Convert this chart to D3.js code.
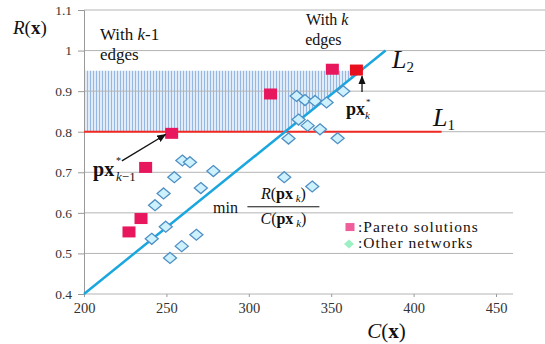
<!DOCTYPE html>
<html>
<head>
<meta charset="utf-8">
<style>
    body { margin: 0; background: #fff; }
    .grid line { stroke: #b4b4b4; stroke-width: 1; }
</style>
</head>
<body>
<svg width="545" height="344"></svg>
<script src="https://d3js.org/d3.v7.min.js"></script>
<script>
// data
let xTicks = [200, 250, 300, 350, 400, 450]
let yTicks = [0.4, 0.5, 0.6, 0.7, 0.8, 0.9, 1, 1.1]
let yTickLabels = ["0.4", "0.5", "0.6", "0.7", "0.8", "0.9", "1", "1.1"]

let paretoC = [227.3, 234.6, 237.4, 253.2, 313.2, 350.7]
let paretoR = [0.553, 0.586, 0.712, 0.796, 0.893, 0.954]
let bestC = [365.3]   // px*_k
let bestR = [0.952]

let otherC = [241.1, 249.6, 252.2, 259.3, 268.2, 243.1, 248.3, 254.8, 270.9, 278.5, 259.7, 264.3,
              321.5, 338.5, 324.1, 330.2, 335.7, 343.2, 353.9, 329.0, 334.1, 340.2, 347.2, 357.3]
let otherR = [0.536, 0.566, 0.489, 0.518, 0.546, 0.619, 0.648, 0.688, 0.661, 0.703, 0.729, 0.725,
              0.688, 0.665, 0.783, 0.830, 0.815, 0.806, 0.784, 0.888, 0.878, 0.876, 0.872, 0.900]

let L1 = { c: [200, 417], r: 0.8 }
let L2 = { c: [200, 383], r: [0.4, 1.0] }
let band = [0.8, 0.95]

let serif = "Liberation Serif"
let svg = d3.select("svg")
let width = 545

let x = d3.scaleLinear().domain([200, 450]).range([84, 496])
let y = d3.scaleLinear().domain([0.4, 1.1]).range([294, 10])
let plotRight = 513

// L2 as a function so the shaded band can stop at it
let l2 = d3.scaleLinear().domain(L2.r).range(L2.c)

// pattern for the shaded band
let defs = svg.append("defs")
let pat = defs.append("pattern")
    .attr("id", "stripes")
    .attr("width", 3).attr("height", 4)
    .attr("patternUnits", "userSpaceOnUse")
pat.append("rect").attr("width", 3).attr("height", 4).attr("fill", "#e1ecf8")
pat.append("rect").attr("width", 1).attr("height", 4).attr("fill", "#94b8e2")

defs.append("marker")
    .attr("id", "arrow")
    .attr("viewBox", "0 0 10 10")
    .attr("refX", 9).attr("refY", 5)
    .attr("markerWidth", 7).attr("markerHeight", 7)
    .attr("orient", "auto")
    .append("path")
    .attr("d", "M0,1 L10,5 L0,9 Z")
    .attr("fill", "#111")

// shaded band (left of L2, between 0.8 and 0.95)
svg.append("path")
    .attr("d", d3.line()([
        [x(200), y(band[0])],
        [x(l2(band[0])), y(band[0])],
        [x(l2(band[1])), y(band[1])],
        [x(200), y(band[1])]
    ]) + "Z")
    .attr("fill", "url(#stripes)")

// gridlines
svg.append("g")
    .attr("class", "grid")
    .selectAll("line")
    .data(yTicks)
    .join("line")
    .attr("x1", x(200))
    .attr("x2", d => d >= 0.7 ? width : plotRight)
    .attr("y1", d => y(d))
    .attr("y2", d => y(d))

// y axis
let yAxis = svg.append("g")
    .attr("transform", `translate(${x(200)},0)`)
    .call(d3.axisLeft(y).tickValues(yTicks).tickFormat((d, i) => yTickLabels[i]).tickSize(6).tickPadding(6))
    .attr("font-family", serif).attr("font-size", 13.5)
yAxis.select(".domain").attr("stroke", "#999")
yAxis.selectAll(".tick line").attr("stroke", "#999")
yAxis.selectAll(".tick text").attr("fill", "#333")

// x axis
let xAxis = svg.append("g")
    .attr("transform", `translate(0,${y(0.4)})`)
    .call(d3.axisBottom(x).tickValues(xTicks).tickSize(3).tickPadding(6))
    .attr("font-family", serif).attr("font-size", 14.5)
xAxis.select(".domain").remove()
xAxis.selectAll(".tick line").attr("stroke", "#999")
xAxis.selectAll(".tick text").attr("fill", "#333")

// L1 and L2
svg.append("line")
    .attr("x1", x(L1.c[0])).attr("x2", x(L1.c[1]))
    .attr("y1", y(L1.r)).attr("y2", y(L1.r))
    .attr("stroke", "#f02a22").attr("stroke-width", 2)

svg.append("line")
    .attr("x1", x(L2.c[0])).attr("y1", y(L2.r[0]))
    .attr("x2", x(L2.c[1])).attr("y2", y(L2.r[1]))
    .attr("stroke", "#1aa6de").attr("stroke-width", 2.5)

// other networks (diamonds)
let diamond = "M0,-5.5 L6.5,0 L0,5.5 L-6.5,0 Z"
svg.append("g")
    .selectAll("path")
    .data(otherC.map((c, i) => [c, otherR[i]]))
    .join("path")
    .attr("transform", d => `translate(${x(d[0])},${y(d[1])})`)
    .attr("d", diamond)
    .attr("fill", "#cdf1fd")
    .attr("stroke", "#4f8fc4")
    .attr("stroke-width", 1.3)

// pareto solutions (squares)
svg.append("g")
    .selectAll("rect")
    .data(paretoC.map((c, i) => [c, paretoR[i]]))
    .join("rect")
    .attr("x", d => x(d[0]) - 6.5)
    .attr("y", d => y(d[1]) - 5.5)
    .attr("width", 13).attr("height", 11)
    .attr("fill", "#e8175d")

svg.append("g")
    .selectAll("rect")
    .data(bestC.map((c, i) => [c, bestR[i]]))
    .join("rect")
    .attr("x", d => x(d[0]) - 6.5)
    .attr("y", d => y(d[1]) - 5.5)
    .attr("width", 13).attr("height", 11)
    .attr("fill", "#e8101e")

// arrows
svg.append("line")
    .attr("x1", x(368.7)).attr("y1", y(0.898))
    .attr("x2", x(368.7)).attr("y2", y(0.937))
    .attr("stroke", "#111").attr("stroke-width", 1.3)
    .attr("marker-end", "url(#arrow)")

svg.append("line")
    .attr("x1", x(223)).attr("y1", y(0.728))
    .attr("x2", x(249.5)).attr("y2", y(0.793))
    .attr("stroke", "#111").attr("stroke-width", 1.3)
    .attr("marker-end", "url(#arrow)")

// texts
function addText(px, py, parts, size, anchor) {
    let t = svg.append("text")
        .attr("x", px).attr("y", py)
        .attr("font-family", serif)
        .attr("font-size", size)
        .attr("fill", "#111")
        .attr("text-anchor", anchor || "start")
    parts.forEach(p => {
        let s = t.append("tspan").text(p.t)
        if (p.i) s.attr("font-style", "italic")
        if (p.b) s.attr("font-weight", "bold")
        if (p.s) s.attr("font-size", p.s)
        if (p.dy) s.attr("dy", p.dy)
        if (p.dx) s.attr("dx", p.dx)
    })
    return t
}

// axis titles
addText(13, 34, [{ t: "R", i: true }, { t: "(" }, { t: "x", b: true }, { t: ")" }], 19)
addText(x(383.5), 338, [{ t: "C", i: true }, { t: "(" }, { t: "x", b: true }, { t: ")" }], 21, "middle")

// region labels
addText(x(209.7), y(1.026), [{ t: "With " }, { t: "k", i: true }, { t: "-1" }], 17)
addText(x(209.7), y(0.977), [{ t: "edges" }], 17)
addText(x(334.7), y(1.063), [{ t: "With " }, { t: "k", i: true }], 16)
addText(x(334.2), y(1.014), [{ t: "edges" }], 16)

// line labels
addText(x(386.9), y(0.957), [{ t: "L", i: true }, { t: "2", s: 15, dy: 4 }], 26)
addText(x(411.8), y(0.814), [{ t: "L", i: true }, { t: "1", s: 15, dy: 4 }], 26)

// px*_k
addText(x(359), y(0.841), [{ t: "px", b: true }], 18)
addText(x(359) + 20, y(0.841) - 10, [{ t: "*" }], 9)
addText(x(359) + 19, y(0.841) + 4, [{ t: "k", i: true }], 11)

// px*_{k-1}
addText(x(205.5), y(0.691), [{ t: "px", b: true }], 20)
addText(x(205.5) + 23, y(0.691) - 12, [{ t: "*" }], 10)
addText(x(205.5) + 23, y(0.691) + 5, [{ t: "k", i: true }, { t: "\u22121" }], 13)

// min R/C
addText(x(278.3), y(0.6), [{ t: "min" }], 16)
let fc = x(321)
svg.append("line")
    .attr("x1", fc - 36).attr("x2", fc + 36)
    .attr("y1", y(0.615)).attr("y2", y(0.615))
    .attr("stroke", "#111").attr("stroke-width", 1)
addText(fc, y(0.634), [{ t: "R", i: true }, { t: "(" }, { t: "px", b: true }, { t: " k", i: true, s: 11, dy: 3 }, { t: ")", dy: -3 }], 16, "middle")
addText(fc, y(0.573), [{ t: "C", i: true }, { t: "(" }, { t: "px", b: true }, { t: " k", i: true, s: 11, dy: 3 }, { t: ")", dy: -3 }], 16, "middle")

// legend
svg.append("rect")
    .attr("x", x(361.4) - 4.5).attr("y", y(0.565) - 4)
    .attr("width", 9).attr("height", 8)
    .attr("fill", "#ef5d9b")
svg.append("path")
    .attr("transform", `translate(${x(360.8)},${y(0.523)})`)
    .attr("d", "M0,-4.5 L5,0 L0,4.5 L-5,0 Z")
    .attr("fill", "#9df0c4")
addText(x(366.3), y(0.553), [{ t: ":Pareto solutions" }], 15.5).attr("letter-spacing", 1)
addText(x(366.3), y(0.513), [{ t: ":Other networks" }], 15.5).attr("letter-spacing", 1)
</script>
</body>
</html>
